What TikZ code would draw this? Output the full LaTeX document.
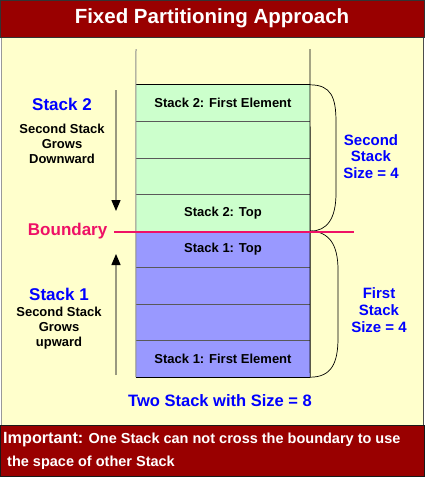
\documentclass[tikz,border=0pt]{standalone}
\usepackage{fontspec}
\setmainfont{Liberation Sans}
\usetikzlibrary{arrows.meta}
\definecolor{darkred}{RGB}{153,0,0}
\definecolor{paleyellow}{RGB}{255,255,204}
\definecolor{palegreen}{RGB}{204,255,204}
\definecolor{paleblue}{RGB}{153,153,255}
\definecolor{bndcol}{RGB}{238,17,102}
\definecolor{lblblue}{RGB}{0,0,255}
\definecolor{arrgray}{RGB}{153,153,128}
\tikzset{
  cellbox/.style={minimum width=174pt, minimum height=36.5pt, inner sep=0pt, draw=none,
    font=\bfseries\fontsize{13}{15}\selectfont},
  sepline/.style={draw=black!65, line width=0.8pt},
  bigblue/.style={text=lblblue, font=\bfseries\fontsize{17}{19}\selectfont, inner sep=0pt},
  desc/.style={align=center, font=\bfseries\fontsize{13}{15}\selectfont, inner sep=0pt},
  sizelbl/.style={align=center, text=lblblue, font=\bfseries\fontsize{15}{16.5}\selectfont, inner sep=0pt},
  growarrow/.style={draw=arrgray, line width=1.3pt, -{Triangle[color=black,length=11pt,width=9pt]}},
  brace/.style={draw=black, line width=0.7pt},
  bndline/.style={draw=bndcol, line width=2pt},
}
\begin{document}
\begin{tikzpicture}[x=1pt,y=-1pt]
\useasboundingbox (0,0) rectangle (425,477);
% frames
\fill[paleyellow] (1,37) rectangle (424,425);
\draw[black!40, line width=1.2pt] (1.3,37) -- (1.3,425);
\draw[black!70, line width=1.2pt] (423.6,37) -- (423.6,425);
\draw[fill=darkred, draw=black!80, line width=0.8pt] (0.4,0.4) rectangle (424.6,37);
\draw[fill=darkred, draw=black!90, line width=0.8pt] (0.4,425) rectangle (424.6,476.6);
\node[text=white, font=\bfseries\fontsize{20.5}{23}\selectfont, inner sep=0pt] (title) at (212,18) {Fixed Partitioning Approach};
% cells
\node[cellbox, fill=palegreen] (c1) at (223,103.25) {Stack 2: First Element};
\node[cellbox, fill=palegreen] (c2) at (223,139.75) {};
\node[cellbox, fill=palegreen] (c3) at (223,176.25) {};
\node[cellbox, fill=palegreen] (c4) at (223,212.75) {Stack 2: Top};
\node[cellbox, fill=paleblue] (c5) at (223,249.25) {Stack 1: Top};
\node[cellbox, fill=paleblue] (c6) at (223,285.75) {};
\node[cellbox, fill=paleblue] (c7) at (223,322.25) {};
\node[cellbox, fill=paleblue] (c8) at (223,358.75) {Stack 1: First Element};
\draw[sepline] (c1.south west) -- (c1.south east);
\draw[sepline] (c2.south west) -- (c2.south east);
\draw[sepline] (c3.south west) -- (c3.south east);
\draw[sepline] (c5.south west) -- (c5.south east);
\draw[sepline] (c6.south west) -- (c6.south east);
\draw[sepline] (c7.south west) -- (c7.south east);
\draw[black, line width=0.9pt] (c1.north west) -- (c1.north east);
\draw[black, line width=0.9pt] (c8.south west) -- (c8.south east);
\coordinate (ltop) at (136,49);
\coordinate (rtop) at (310,49);
\draw[black!45, line width=1pt] (ltop) -- (c8.south west);
\draw[black, line width=0.9pt] (rtop) -- (c8.south east);
% braces
\draw[brace] (c1.north east) .. controls (331,85) and (336,97) .. (336,122) -- (336,193) .. controls (336,219) and (327,231) .. (c4.south east);
\draw[brace] (c5.north east) .. controls (329,232) and (338,244) .. (338,270) -- (338,338) .. controls (338,364) and (331,377) .. (c8.south east);
% boundary
\coordinate (bl) at (114,231.5);
\coordinate (br) at (354,231.5);
\draw[bndline] (bl) -- (br);
\node[text=bndcol, font=\bfseries\fontsize{17}{19}\selectfont, inner sep=0pt, anchor=east] (bnd) at (107.5,231) {Boundary};
% left labels
\node[bigblue] (s2) at (62,104) {Stack 2};
\node[desc] (s2d) at (62,144) {Second Stack\\Grows\\Downward};
\coordinate (a2s) at (116,90);
\coordinate (a2e) at (116,211);
\draw[growarrow] (a2s) -- (a2e);
\node[bigblue] (s1) at (59,294) {Stack 1};
\node[desc] (s1d) at (59,328) {Second Stack\\Grows\\upward};
\coordinate (a1s) at (116,375);
\coordinate (a1e) at (116,254);
\draw[growarrow] (a1s) -- (a1e);
% right labels
\node[sizelbl] (sz2) at (371,156.5) {Second\\Stack\\Size = 4};
\node[sizelbl, font=\bfseries\fontsize{15}{17}\selectfont] (sz1) at (379,310) {First\\Stack\\Size = 4};
% bottom texts
\node[text=lblblue, font=\bfseries\fontsize{16.5}{19}\selectfont, inner sep=0pt] (total) at (220,401) {Two Stack with Size = 8};
\node[text=white, font=\bfseries\fontsize{14.5}{17}\selectfont, inner sep=0pt, anchor=west] (imp1) at (3,440) {{\fontsize{16.2}{19}\selectfont Important:} One Stack can not cross the boundary to use};
\node[text=white, font=\bfseries\fontsize{14.5}{17}\selectfont, inner sep=0pt, anchor=west] (imp2) at (7,463) {the space of other Stack};
\end{tikzpicture}
\end{document}
